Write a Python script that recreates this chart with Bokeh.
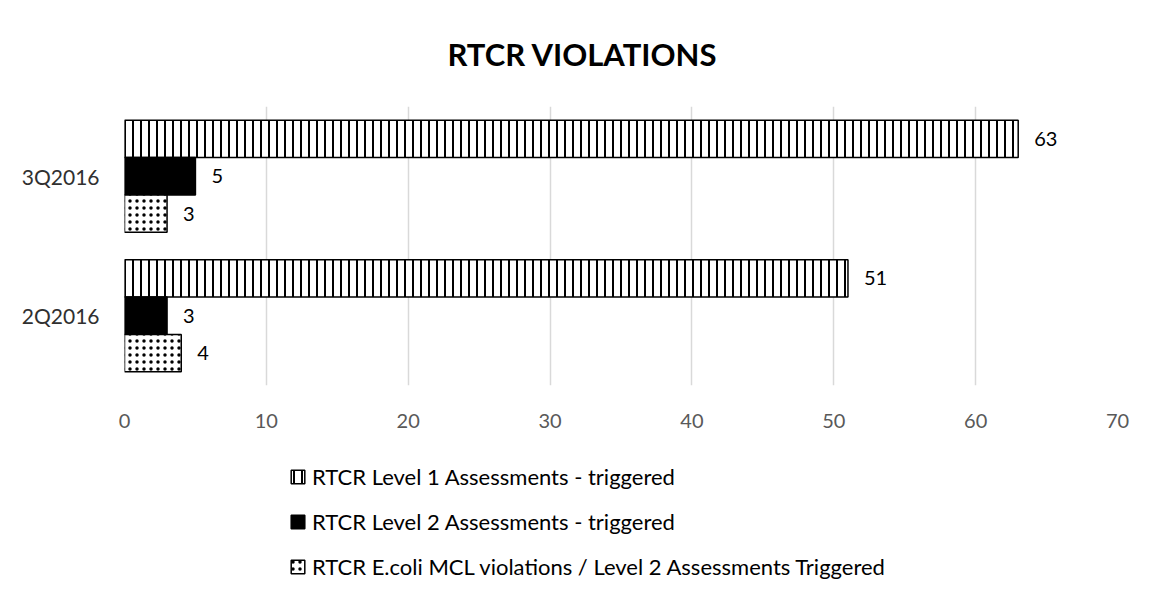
from bokeh.plotting import figure
from bokeh.layouts import column
from bokeh.models import (FactorRange, ColumnDataSource, Legend, LegendItem, LabelSet,
                          Range1d, FixedTicker, Label)
from bokeh.transform import dodge
from bokeh.embed import file_html
from bokeh.resources import INLINE
from bokeh.core.properties import value

# ---- data ----
quarters = ["2Q2016", "3Q2016"]
series_names = ["RTCR Level 1 Assessments - triggered",
                "RTCR Level 2 Assessments - triggered",
                "RTCR E.coli MCL violations / Level 2 Assessments Triggered"]
level1 = [51, 63]
level2 = [3, 5]
ecoli = [4, 3]
x_ticks = [0, 10, 20, 30, 40, 50, 60, 70]
title_text = "RTCR VIOLATIONS"

FONT = "Lato"
W = 1146

# styles per series
S1 = dict(fill_color="white", line_color="black", line_width=1.5,
          hatch_pattern="vertical_line", hatch_scale=8, hatch_weight=2, hatch_color="black")
S2 = dict(fill_color="black", line_color="black", line_width=1.5)
S3 = dict(fill_color="white", line_color="black", line_width=1.5,
          hatch_pattern="dot", hatch_scale=7, hatch_weight=2.6, hatch_color="black")

# ---- title strip ----
pt = figure(width=W, height=106, x_range=Range1d(124, 1117), y_range=Range1d(0, 106),
            output_backend="svg", toolbar_location=None,
            min_border_left=0, min_border_right=0, min_border_top=0, min_border_bottom=0)
pt.axis.visible = False
pt.grid.visible = False
pt.outline_line_color = None
pt.add_layout(Label(x=582, y=53, text=title_text, text_align="center", text_baseline="middle",
                    text_font=FONT, text_font_style="bold", text_font_size="31px",
                    text_color="black"))

# ---- chart ----
src = ColumnDataSource(data=dict(q=quarters, l1=level1, l2=level2, ec=ecoli,
                                 l1s=[str(v) for v in level1],
                                 l2s=[str(v) for v in level2],
                                 ecs=[str(v) for v in ecoli]))

p = figure(width=W, height=324, y_range=FactorRange(factors=quarters),
           x_range=Range1d(0, 70), output_backend="svg", toolbar_location=None,
           min_border_left=124, min_border_right=29, min_border_top=0,
           min_border_bottom=38)
p.outline_line_color = None

BH = 0.268
r1 = p.hbar(y=dodge("q", BH, range=p.y_range), right="l1", left=0, height=BH, source=src, **S1)
r2 = p.hbar(y=dodge("q", 0, range=p.y_range), right="l2", left=0, height=BH, source=src, **S2)
r3 = p.hbar(y=dodge("q", -BH, range=p.y_range), right="ec", left=0, height=BH, source=src, **S3)

for col, txt, off in [("l1", "l1s", BH), ("l2", "l2s", 0), ("ec", "ecs", -BH)]:
    ls = LabelSet(x=col, y=dodge("q", off, range=p.y_range), text=txt, source=src,
                  x_offset=16, text_baseline="middle", text_align="left",
                  text_font=value(FONT), text_font_size="20px", text_color="#000000")
    p.add_layout(ls)

p.xaxis.ticker = FixedTicker(ticks=x_ticks)
for ax in (p.xaxis[0], p.yaxis[0]):
    ax.axis_line_color = None
    ax.major_tick_line_color = None
    ax.minor_tick_line_color = None
    ax.major_tick_out = 0
    ax.major_tick_in = 0
    ax.major_label_text_font = FONT
p.xaxis.major_label_text_font_size = "20px"
p.yaxis.major_label_text_font_size = "21px"
p.xaxis.major_label_text_color = "#595959"
p.yaxis.major_label_text_color = "#303030"
p.xaxis.major_label_standoff = 28
p.yaxis.major_label_standoff = 25
p.xgrid.grid_line_color = "#d9d9d9"
p.xgrid.grid_line_width = 1.5
p.ygrid.grid_line_color = None

# ---- legend strip ----
pl = figure(width=W, height=160, x_range=Range1d(0, 1), y_range=Range1d(0, 1),
            output_backend="svg", toolbar_location=None,
            min_border_left=0, min_border_right=0, min_border_top=0, min_border_bottom=0)
pl.axis.visible = False
pl.grid.visible = False
pl.outline_line_color = None
# legend-key renderers (hidden; only their legend keys are shown)
d1 = pl.hbar(y=0.5, right="l1", left=0, height=0.1, source=src, visible=False, **S1)
d2 = pl.hbar(y=0.5, right="l2", left=0, height=0.1, source=src, visible=False, **S2)
d3 = pl.hbar(y=0.5, right="ec", left=0, height=0.1, source=src, visible=False, **S3)
legend = Legend(items=[LegendItem(label=series_names[0], renderers=[d1]),
                       LegendItem(label=series_names[1], renderers=[d2]),
                       LegendItem(label=series_names[2], renderers=[d3])],
                location=(165, 9), orientation="vertical",
                glyph_width=17, glyph_height=17, label_standoff=6, spacing=15,
                label_height=30, padding=0, margin=0,
                label_text_font=FONT, label_text_font_size="22px",
                label_text_color="black", border_line_color=None,
                background_fill_alpha=0, inactive_fill_alpha=0)
pl.add_layout(legend, "center")

layout = column(pt, p, pl, spacing=0)
open("out.html", "w").write(file_html(layout, INLINE))
